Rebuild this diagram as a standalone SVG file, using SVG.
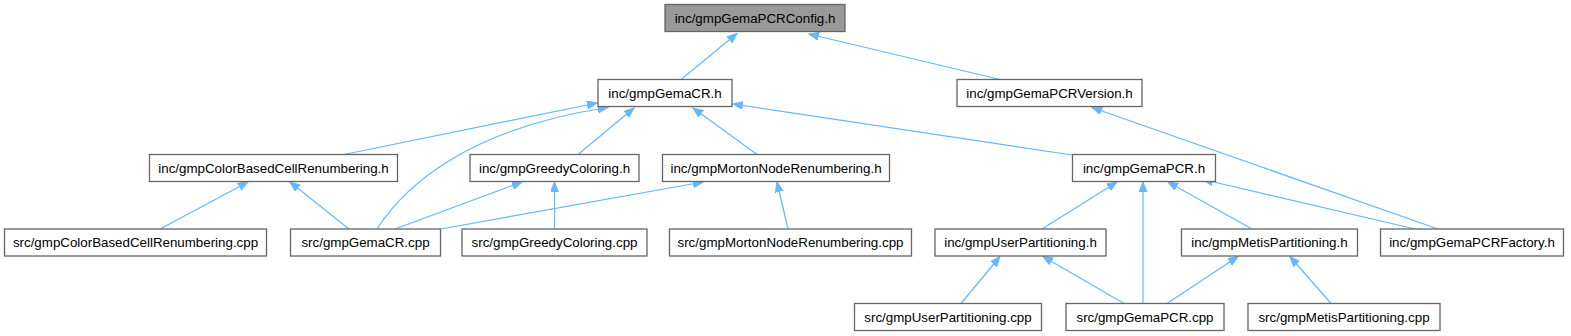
<svg xmlns="http://www.w3.org/2000/svg" width="1571" height="336" viewBox="0 0 1571 336">
<style>
.n rect{fill:#ffffff;stroke:#666666;stroke-width:1.3}
.n.root rect{fill:#999999}
.n text{font-family:"Liberation Sans",Arial,sans-serif;font-size:13.33px;fill:#000000;text-anchor:middle}
.e path{fill:none;stroke:#63b8ff;stroke-width:1.2;marker-end:url(#ah)}
</style>
<defs>
<marker id="ah" markerUnits="userSpaceOnUse" markerWidth="12" markerHeight="10" refX="10" refY="4" orient="auto">
<path d="M0,0 L10,4 L0,8 z" fill="#63b8ff" stroke="#63b8ff" stroke-width="1"/>
</marker>
</defs>
<rect width="1571" height="336" fill="#ffffff"/>
<g id="edges" class="e">
<path d="M681,79.5 L737,33.5"/>
<path d="M1000,79.5 L809,34"/>
<path d="M344,154.5 L597,103"/>
<path d="M377,229 C405,185 470,128 608,107.5"/>
<path d="M578,154.5 L634,108"/>
<path d="M757,154.5 L693,108"/>
<path d="M1072,155 L733,104"/>
<path d="M160,229 L248,182"/>
<path d="M349,229 L290,182"/>
<path d="M395,229 L522,182"/>
<path d="M554.5,229 L554.5,182"/>
<path d="M438,229.5 L703,182"/>
<path d="M788,229 L777,182"/>
<path d="M1438,229 L1092,107.5"/>
<path d="M1042,229 L1117,182"/>
<path d="M1143,303.5 L1143,182"/>
<path d="M1252,229 L1168,182"/>
<path d="M1415,229 L1203,179.5"/>
<path d="M961,303.5 L1000,256.5"/>
<path d="M1124,303.5 L1043,256.5"/>
<path d="M1167,303.5 L1238,256.5"/>
<path d="M1331,303.5 L1290,256.5"/>
</g>
<g id="config" class="n root"><rect x="665" y="4.5" width="180" height="27"/><text x="755" y="22.5">inc/gmpGemaPCRConfig.h</text></g>
<g id="gemacr_h" class="n"><rect x="598" y="79.5" width="134" height="27"/><text x="665" y="97.5">inc/gmpGemaCR.h</text></g>
<g id="version_h" class="n"><rect x="957" y="79.5" width="185" height="27"/><text x="1049.5" y="97.5">inc/gmpGemaPCRVersion.h</text></g>
<g id="colorbased_h" class="n"><rect x="149.5" y="154.5" width="248" height="27"/><text x="273.5" y="172.5">inc/gmpColorBasedCellRenumbering.h</text></g>
<g id="greedy_h" class="n"><rect x="470" y="154.5" width="169" height="27"/><text x="554.5" y="172.5">inc/gmpGreedyColoring.h</text></g>
<g id="morton_h" class="n"><rect x="662.5" y="154.5" width="227" height="27"/><text x="776" y="172.5">inc/gmpMortonNodeRenumbering.h</text></g>
<g id="gemapcr_h" class="n"><rect x="1072.5" y="154.5" width="143" height="27"/><text x="1144" y="172.5">inc/gmpGemaPCR.h</text></g>
<g id="colorbased_cpp" class="n"><rect x="4.5" y="229" width="262" height="27"/><text x="135.5" y="247">src/gmpColorBasedCellRenumbering.cpp</text></g>
<g id="gemacr_cpp" class="n"><rect x="290.5" y="229" width="150" height="27"/><text x="365.5" y="247">src/gmpGemaCR.cpp</text></g>
<g id="greedy_cpp" class="n"><rect x="462" y="229" width="185" height="27"/><text x="554.5" y="247">src/gmpGreedyColoring.cpp</text></g>
<g id="morton_cpp" class="n"><rect x="669.5" y="229" width="242" height="27"/><text x="790.5" y="247">src/gmpMortonNodeRenumbering.cpp</text></g>
<g id="userpart_h" class="n"><rect x="935" y="229" width="171" height="27"/><text x="1020.5" y="247">inc/gmpUserPartitioning.h</text></g>
<g id="metis_h" class="n"><rect x="1181.5" y="229" width="176" height="27"/><text x="1269.5" y="247">inc/gmpMetisPartitioning.h</text></g>
<g id="factory_h" class="n"><rect x="1380.5" y="229" width="183" height="27"/><text x="1472" y="247">inc/gmpGemaPCRFactory.h</text></g>
<g id="userpart_cpp" class="n"><rect x="854.5" y="303.5" width="187" height="27"/><text x="948" y="321.5">src/gmpUserPartitioning.cpp</text></g>
<g id="gemapcr_cpp" class="n"><rect x="1066" y="303.5" width="158" height="27"/><text x="1145" y="321.5">src/gmpGemaPCR.cpp</text></g>
<g id="metis_cpp" class="n"><rect x="1248" y="303.5" width="192" height="27"/><text x="1344" y="321.5">src/gmpMetisPartitioning.cpp</text></g>
</svg>
